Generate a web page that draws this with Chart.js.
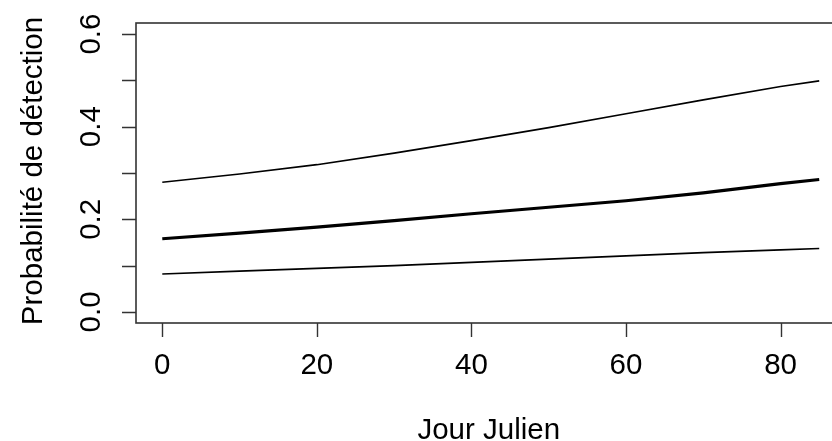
<!DOCTYPE html>
<html>
<head>
<meta charset="utf-8">
<script src="https://cdn.jsdelivr.net/npm/chart.js@4"></script>
<style>
  html, body { margin: 0; padding: 0; background: #fff; }
  #wrap { width: 832px; height: 441px; overflow: hidden; position: relative; }
  canvas { display: block; }
</style>
</head>
<body>
<div id="wrap"><canvas id="c" width="860" height="441"></canvas></div>
<script>
// ---- data ----
const jours = [0, 10, 20, 30, 40, 50, 60, 70, 80, 85];
const probMoyenne = [0.158, 0.170, 0.183, 0.197, 0.212, 0.226, 0.240, 0.257, 0.277, 0.286];
const probSup     = [0.280, 0.298, 0.318, 0.343, 0.370, 0.398, 0.428, 0.458, 0.487, 0.499];
const probInf     = [0.082, 0.088, 0.094, 0.100, 0.107, 0.114, 0.121, 0.128, 0.134, 0.137];

const xTicks = [0, 20, 40, 60, 80];
const xTickLabels = ["0", "20", "40", "60", "80"];
const yTicks = [0, 0.1, 0.2, 0.3, 0.4, 0.5, 0.6];
const yTickLabels = ["0.0", "", "0.2", "", "0.4", "", "0.6"];
const xTitle = "Jour Julien";
const yTitle = "Probabilité de détection";

const FONT = '29.5px "Liberation Sans", Arial, sans-serif';

const pts = arr => jours.map((j, i) => ({ x: j, y: arr[i] }));

const rAxes = {
  id: 'rAxes',
  afterDraw(chart) {
    const ctx = chart.ctx;
    const a = chart.chartArea;
    const xs = chart.scales.x, ys = chart.scales.y;
    ctx.save();
    // box
    ctx.strokeStyle = '#333';
    ctx.lineWidth = 1.6;
    ctx.strokeRect(a.left, a.top, a.right - a.left, a.bottom - a.top);
    // x ticks
    ctx.lineWidth = 1.4;
    ctx.beginPath();
    xTicks.forEach(v => {
      const px = Math.round(xs.getPixelForValue(v)) + 0.5;
      ctx.moveTo(px, a.bottom);
      ctx.lineTo(px, a.bottom + 14);
    });
    // y ticks
    yTicks.forEach(v => {
      const py = Math.round(ys.getPixelForValue(v)) + 0.5;
      ctx.moveTo(a.left, py);
      ctx.lineTo(a.left - 14, py);
    });
    ctx.stroke();
    // labels
    ctx.fillStyle = '#000';
    ctx.font = FONT;
    ctx.textAlign = 'center';
    ctx.textBaseline = 'alphabetic';
    xTicks.forEach((v, i) => {
      ctx.fillText(xTickLabels[i], xs.getPixelForValue(v), 374);
    });
    yTicks.forEach((v, i) => {
      if (!yTickLabels[i]) return;
      ctx.save();
      ctx.translate(100, ys.getPixelForValue(v));
      ctx.rotate(-Math.PI / 2);
      ctx.fillText(yTickLabels[i], 0, 0);
      ctx.restore();
    });
    // titles
    ctx.fillText(xTitle, (a.left + a.right) / 2 - 2, 439);
    ctx.save();
    ctx.translate(42, 171);
    ctx.rotate(-Math.PI / 2);
    ctx.fillText(yTitle, 0, 0);
    ctx.restore();
    ctx.restore();
  }
};

new Chart(document.getElementById('c'), {
  type: 'line',
  data: {
    datasets: [
      { label: 'sup', data: pts(probSup), borderColor: '#000', borderWidth: 1.6, pointRadius: 0, tension: 0, fill: false },
      { label: 'moy', data: pts(probMoyenne), borderColor: '#000', borderWidth: 3.2, pointRadius: 0, tension: 0, fill: false },
      { label: 'inf', data: pts(probInf), borderColor: '#000', borderWidth: 1.6, pointRadius: 0, tension: 0, fill: false }
    ]
  },
  options: {
    responsive: false,
    animation: false,
    devicePixelRatio: 1,
    layout: { padding: { left: 136, top: 23, right: 14.5, bottom: 118 } },
    plugins: { legend: { display: false }, tooltip: { enabled: false } },
    scales: {
      x: { type: 'linear', min: -3.4, max: 88.4, display: false },
      y: { type: 'linear', min: -0.024, max: 0.624, display: false }
    }
  },
  plugins: [rAxes]
});
</script>
</body>
</html>
